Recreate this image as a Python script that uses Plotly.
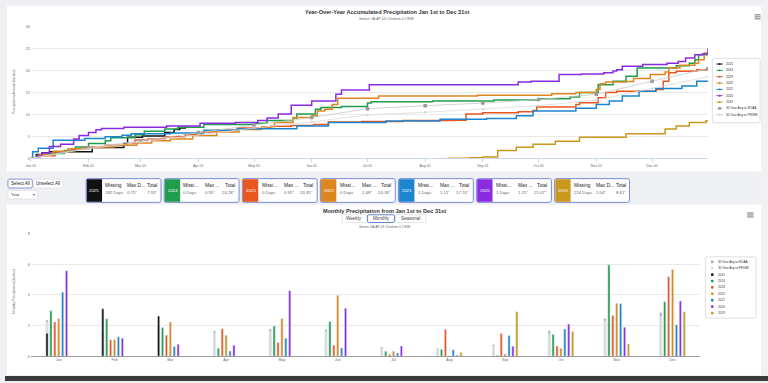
import plotly.graph_objects as go
import pandas as pd

W, H = 768, 383
def X(px): return px / W
def Y(py): return 1 - py / H

FONT = "Liberation Sans, Arial, sans-serif"

# ---------------- data ----------------
years = ["2025", "2024", "2023", "2022", "2021", "2020", "2019"]
year_colors = ["#111111", "#1f9d4c", "#e8571d", "#de861e", "#1b86cf", "#8a2be2", "#c9981c"]
noaa_name = "30 Year Avg to NOAA"
prism_name = "30 Year Avg to PRISM"
noaa_color = "#a9a9a9"
prism_color = "#d9d9d9"

# accumulated precipitation: day-of-year breakpoints and running totals (inches)
acc_days_2025 = [0, 3, 6, 10, 33, 50, 52, 60, 72, 77, 80, 83]
acc_vals_2025 = [0, 0.9, 1.3, 1.5, 2.5, 3.4, 4.8, 5.1, 5.9, 6.6, 6.9, 7.33]
acc_days_2024 = [0, 4, 10, 18, 24, 31, 40, 43, 56, 61, 72, 79, 93, 120, 127, 141, 143, 153, 156, 167, 181, 183,
                 216, 249, 273, 290, 295, 305, 313, 320, 326, 347, 354, 357, 359, 364]
acc_vals_2024 = [0, 0.8, 1.1, 1.8, 2.6, 3.4, 4.0, 4.7, 5.4, 6.2, 6.7, 7.1, 7.7, 8.0, 8.6, 9.2, 10.1, 11.2, 11.6,
                 11.8, 12.6, 12.9, 13.1, 13.3, 13.6, 14.0, 15.0, 16.8, 17.6, 18.7, 20.6, 21.1, 21.7, 22.5, 23.6, 24.28]
acc_days_2023 = [0, 4, 13, 22, 29, 40, 52, 56, 63, 72, 83, 92, 100, 111, 129, 140, 152, 160, 178, 200, 228, 234,
                 243, 262, 270, 272, 293, 295, 305, 309, 315, 336, 340, 343, 347, 358, 364]
acc_vals_2023 = [0, 0.6, 1.5, 2.1, 2.5, 3.0, 3.4, 4.2, 4.4, 4.9, 5.4, 6.0, 6.4, 6.9, 7.3, 7.5, 7.7, 8.3, 8.4, 8.6,
                 8.7, 10.1, 10.4, 10.6, 10.9, 11.7, 12.3, 12.7, 13.8, 15.0, 15.3, 15.7, 17.6, 19.5, 19.85, 20.2, 20.35]
acc_days_2022 = [0, 5, 12, 20, 31, 45, 57, 65, 75, 87, 100, 112, 124, 131, 141, 151, 154, 158, 162, 165, 187, 240,
                 280, 293, 304, 306, 309, 320, 324, 333, 341, 343, 349, 357, 359, 362, 364]
acc_vals_2022 = [0, 0.8, 1.6, 2.2, 2.6, 3.0, 3.5, 4.0, 4.4, 5.2, 6.0, 6.6, 7.2, 8.2, 9.3, 9.7, 10.8, 11.2, 12.3,
                 13.7, 14.2, 14.4, 14.7, 15.0, 15.7, 17.0, 17.4, 17.5, 18.2, 19.1, 19.7, 20.6, 21.2, 21.7, 22.5, 24.0, 24.18]
acc_days_2021 = [0, 1, 4, 12, 29, 40, 49, 54, 75, 93, 111, 143, 160, 191, 220, 245, 261, 270, 293, 304, 311, 318,
                 327, 336, 350, 358, 364]
acc_vals_2021 = [0, 1.5, 2.3, 4.1, 4.5, 4.9, 5.25, 5.6, 5.8, 6.4, 6.75, 7.4, 8.2, 8.5, 8.9, 9.1, 9.7, 10.8, 11.4,
                 12.3, 13.1, 14.2, 15.3, 15.9, 16.5, 17.6, 17.74]
acc_days_2020 = [0, 3, 6, 10, 16, 23, 26, 31, 35, 38, 50, 73, 91, 110, 122, 127, 133, 140, 151, 164, 167, 182,
                 262, 269, 284, 296, 308, 313, 315, 318, 329, 342, 348, 352, 357, 361, 364]
acc_vals_2020 = [0, 0.5, 1.2, 2.7, 3.2, 4.4, 5.2, 5.9, 6.5, 6.8, 7.1, 7.4, 8.0, 8.2, 8.6, 9.2, 10.1, 12.1, 13.1,
                 14.6, 15.6, 16.8, 17.4, 17.6, 19.1, 19.25, 19.5, 19.9, 20.2, 21.0, 21.4, 21.7, 22.1, 22.9, 23.6, 23.8, 25.07]
acc_days_2019 = [224, 236, 243, 251, 261, 270, 282, 295, 320, 341, 347, 354, 363, 364]
acc_vals_2019 = [0, 0.15, 0.3, 1.8, 2.55, 3.2, 3.9, 4.8, 5.6, 6.7, 7.4, 8.2, 8.55, 8.61]

avg_dates = ["2021-01-01", "2021-02-01", "2021-03-01", "2021-04-01", "2021-05-01", "2021-06-01", "2021-07-01",
             "2021-08-01", "2021-09-01", "2021-10-01", "2021-11-01", "2021-12-01", "2021-12-31"]
noaa_accum = [0, 2.4, 4.0, 5.9, 7.6, 9.3, 11.3, 12.0, 12.6, 13.4, 14.6, 17.6, 20.5]
prism_accum = [0, 2.2, 3.7, 5.4, 6.9, 8.3, 9.9, 10.5, 11.2, 12.0, 13.3, 15.9, 18.6]

months = ["Jan", "Feb", "Mar", "Apr", "May", "Jun", "Jul", "Aug", "Sep", "Oct", "Nov", "Dec"]
monthly_noaa = [2.36, 1.6, 1.95, 1.65, 1.78, 1.76, 0.6, 0.52, 0.75, 1.66, 2.47, 2.86]
monthly_prism = [2.2, 1.5, 1.75, 1.5, 1.6, 1.6, 0.5, 0.45, 0.65, 1.45, 2.3, 2.6]
monthly_2025 = [1.5, 3.09, 2.62, None, None, None, None, None, None, None, None, None]
monthly_2024 = [2.96, 2.45, 1.87, 0.52, 1.97, 2.27, 0.32, 0.45, 0.06, 1.42, 5.96, 3.55]
monthly_2023 = [2.23, 1.07, 1.37, 1.8, 0.9, 0.73, 0.11, 1.76, 1.48, 0.67, 2.65, 5.18]
monthly_2022 = [2.47, 1.07, 2.23, 1.37, 2.47, 3.97, 0.32, 0.04, 0.15, 0.52, 3.46, 5.66]
monthly_2021 = [4.18, 1.27, 0.64, 0.34, 1.18, 0.54, 0.21, 0.43, 1.35, 1.78, 3.42, 2.06]
monthly_2020 = [5.58, 1.18, 0.79, 0.71, 4.27, 3.13, 0.67, 0.06, 0.65, 2.1, 1.89, 3.61]
monthly_2019 = [None, None, None, None, None, None, None, 0.26, 2.9, 1.61, 0.8, 2.9]

card_missing = ["282 Days", "0 Days", "0 Days", "0 Days", "1 Days", "1 Days", "224 Days"]
card_max = ['0.75"', '0.95"', '0.92"', '1.48"', '1.11"', '1.25"', '1.04"']
card_total = ['7.33"', '24.28"', '20.35"', '24.18"', '17.74"', '25.07"', '8.61"']
card_head_missing = ["Missing", "Missi...", "Missi...", "Missi...", "Missi...", "Missi...", "Missing"]
card_head_max = ["Max D...", "Max ...", "Max ...", "Max ...", "Max ...", "Max ...", "Max D..."]

acc_days = [acc_days_2025, acc_days_2024, acc_days_2023, acc_days_2022, acc_days_2021, acc_days_2020, acc_days_2019]
acc_vals = [acc_vals_2025, acc_vals_2024, acc_vals_2023, acc_vals_2022, acc_vals_2021, acc_vals_2020, acc_vals_2019]
monthly = [monthly_2025, monthly_2024, monthly_2023, monthly_2022, monthly_2021, monthly_2020, monthly_2019]

base = pd.Timestamp("2021-01-01")

fig = go.Figure()

# ---------------- top chart: accumulated ----------------
for yr, col, dd, vv in zip(years, year_colors, acc_days, acc_vals):
    dates = [base + pd.Timedelta(days=d) for d in dd]
    fig.add_trace(go.Scatter(x=dates, y=vv, mode="lines", name=yr, line=dict(color=col, width=1.5, shape="hv"),
                             xaxis="x", yaxis="y", showlegend=False))
fig.add_trace(go.Scatter(x=avg_dates, y=noaa_accum, mode="lines+markers", name=noaa_name,
                         line=dict(color="#c8c8c8", width=0.8),
                         marker=dict(symbol="square", size=3.5, color="#9a9a9a"),
                         xaxis="x", yaxis="y", showlegend=False))
fig.add_trace(go.Scatter(x=avg_dates, y=prism_accum, mode="lines+markers", name=prism_name,
                         line=dict(color="#dcdcdc", width=0.8),
                         marker=dict(symbol="triangle-up", size=3, color="#cfcfcf"),
                         xaxis="x", yaxis="y", showlegend=False))

# ---------------- bottom chart: monthly ----------------
fig.add_trace(go.Bar(x=months, y=monthly_noaa, name=noaa_name, marker_color=noaa_color,
                     offsetgroup="a", alignmentgroup="m", xaxis="x2", yaxis="y2", showlegend=False))
fig.add_trace(go.Bar(x=months, y=monthly_prism, name=prism_name, marker_color=prism_color,
                     offsetgroup="a", alignmentgroup="m", xaxis="x2", yaxis="y2", showlegend=False))
for yr, col, mv in zip(years, year_colors, monthly):
    fig.add_trace(go.Bar(x=months, y=mv, name=yr, marker_color=col,
                         offsetgroup="a" if yr == "2025" else yr, alignmentgroup="m",
                         xaxis="x2", yaxis="y2", showlegend=False))

shapes = []
ann = []

def rect(x0, y0, x1, y1, fill, line="rgba(0,0,0,0)", lw=0, layer="below"):
    shapes.append(dict(type="rect", xref="paper", yref="paper", x0=X(x0), x1=X(x1), y0=Y(y1), y1=Y(y0),
                       fillcolor=fill, line=dict(color=line, width=lw), layer=layer))

def rrect(x0, y0, x1, y1, r, fill, line, lw, layer="below"):
    rx, ry = r / W, r / H
    a, b, c, d = X(x0), X(x1), Y(y1), Y(y0)  # left, right, bottom, top
    p = (f"M{a+rx},{d} L{b-rx},{d} Q{b},{d} {b},{d-ry} L{b},{c+ry} Q{b},{c} {b-rx},{c} "
         f"L{a+rx},{c} Q{a},{c} {a},{c+ry} L{a},{d-ry} Q{a},{d} {a+rx},{d} Z")
    shapes.append(dict(type="path", xref="paper", yref="paper", path=p, fillcolor=fill,
                       line=dict(color=line, width=lw), layer=layer))

def text(px, py, s, size, color="#333", anchor="left", bold=False, angle=0):
    ann.append(dict(x=X(px), y=Y(py), xref="paper", yref="paper", text=f"<b>{s}</b>" if bold else s,
                    showarrow=False, xanchor=anchor, yanchor="middle", textangle=angle,
                    font=dict(size=size, color=color, family=FONT), borderpad=0))

def hline(x0, x1, py, color, w):
    shapes.append(dict(type="line", xref="paper", yref="paper", x0=X(x0), x1=X(x1), y0=Y(py), y1=Y(py),
                       line=dict(color=color, width=w), layer="above"))

# page background & panels
rect(0, 0, 768, 383, "#eef0f4")
rect(2, 4, 761, 171, "#ffffff")
rect(2, 205, 761, 377, "#ffffff")
rect(762, 0, 768, 383, "#f1f1f1")
rect(0, 378, 768, 383, "#3a3a3a", layer="above")

# top titles
text(384.5, 10.5, "Year-Over-Year Accumulated Precipitation Jan 1st to Dec 31st", 5.6, "#333", "center", True)
text(384.5, 17.5, "Station: VA-AP-43: Chatham 0.2 ESE", 3.3, "#666", "center")
text(9, 91, "Precipitation Amount (Inches)", 3.4, "#666", "center", angle=-90)
for yy in (13, 15, 17):
    hline(754.5, 760.5, yy, "#666666", 0.9)

# top legend (manual, compact)
rrect(712, 57, 760, 122, 1.5, "#ffffff", "#c9c9c9", 0.6, layer="above")
leg_names1 = years + [noaa_name, prism_name]
leg_cols1 = year_colors + ["#9a9a9a", "#cfcfcf"]
for i, (nm, cl) in enumerate(zip(leg_names1, leg_cols1)):
    yy = 62.7 + i * 6.4
    hline(716, 722.5, yy, "#c8c8c8" if i >= 7 else cl, 0.9)
    if i == 7:
        rect(718, yy - 1.4, 720.6, yy + 1.4, cl, layer="above")
    else:
        shapes.append(dict(type="circle", xref="paper", yref="paper", x0=X(718.3), x1=X(720.3),
                           y0=Y(yy + 1), y1=Y(yy - 1), fillcolor=cl, line=dict(width=0), layer="above"))
    text(724.5, yy, nm, 3.2, "#333")

# controls row
rrect(3, 179, 27.5, 188, 1.5, "#ffffff", "#6f77d6", 0.8)
text(15.2, 183.6, "Select All", 4.6, "#222", "center")
rrect(28.5, 179, 58.5, 188, 1.5, "#ffffff", "#d8d8d8", 0.6)
text(43.5, 183.6, "Unselect All", 4.6, "#222", "center")
rrect(3, 190.5, 33, 199, 1.5, "#ffffff", "#d8d8d8", 0.6)
text(5.5, 194.8, "Year", 4.2, "#333")
text(29, 194.5, "▾", 4.2, "#555", "center")

# cards
for i, yr in enumerate(years):
    left = 81.7 + i * 78.6
    right = left + 75.3
    rrect(left, 178.5, right, 202.5, 2, "#ffffff", "#6a7fd4", 0.9)
    rect(left + 0.6, 179.1, left + 16, 201.9, year_colors[i], layer="below")
    text(left + 8.3, 190.5, yr, 4.3, "#ffffff", "center")
    text(left + 18.3, 185.2, card_head_missing[i], 4.9, "#222")
    text(left + 18.3, 193, card_missing[i], 4.3, "#666")
    text(left + 40.5, 185.2, card_head_max[i], 4.9, "#222")
    text(left + 40.5, 193, card_max[i], 4.3, "#666")
    text(right - 3, 185.2, "Total", 4.9, "#222", "right")
    text(right - 3, 193, card_total[i], 4.3, "#666", "right")

# bottom titles and buttons
text(381.5, 210.8, "Monthly Precipitation from Jan 1st to Dec 31st", 5.6, "#333", "center", True)
rrect(339.5, 215, 364, 222.8, 1, "#ffffff", "#d5d5d5", 0.6)
text(351.7, 219, "Weekly", 4.6, "#444", "center")
rrect(365, 215, 392, 222.8, 1, "#ffffff", "#4f72c9", 0.9)
text(378.5, 219, "Monthly", 4.6, "#444", "center")
rrect(393, 215, 423.5, 222.8, 1, "#ffffff", "#d5d5d5", 0.6)
text(408.2, 219, "Seasonal", 4.6, "#444", "center")
text(381.5, 227.8, "Station: VA-AP-43: Chatham 0.2 ESE", 3.1, "#666", "center")
text(9, 292, "Monthly Precipitation (Inches)", 3.4, "#666", "center", angle=-90)
for yy in (213.2, 215.2, 217.2):
    hline(747, 753.5, yy, "#666666", 0.9)

# bottom legend (manual, compact)
rrect(705, 257.5, 756, 319.5, 1.5, "#ffffff", "#c9c9c9", 0.6, layer="above")
leg_names2 = [noaa_name, prism_name] + years
leg_cols2 = [noaa_color, prism_color] + year_colors
for i, (nm, cl) in enumerate(zip(leg_names2, leg_cols2)):
    yy = 262.7 + i * 6.45
    shapes.append(dict(type="circle", xref="paper", yref="paper", x0=X(710.5), x1=X(713.3),
                       y0=Y(yy + 1.4), y1=Y(yy - 1.4), fillcolor=cl, line=dict(width=0), layer="above"))
    text(716.5, yy, nm, 3.1, "#333")

axis_font = dict(size=3.6, color="#666", family=FONT)
fig.update_layout(
    width=W, height=H, margin=dict(l=0, r=0, t=0, b=0),
    paper_bgcolor="#eef0f4", plot_bgcolor="rgba(0,0,0,0)",
    font=dict(family=FONT),
    barmode="group", bargap=0.51, bargroupgap=0.45,
    xaxis=dict(domain=[X(26), X(707.5)], anchor="y", type="date",
               range=["2021-01-01", "2021-12-31"], dtick="M1", tick0="2021-01-01", tickformat="%b %d",
               showgrid=False, showline=True, linecolor="#ccd6eb", linewidth=0.8,
               ticks="outside", ticklen=3, tickcolor="#ccd6eb", tickwidth=0.8,
               tickfont=axis_font, zeroline=False),
    yaxis=dict(domain=[Y(158), Y(25)], anchor="x", range=[0, 30], dtick=5,
               showgrid=True, gridcolor="#e9e9e9", gridwidth=0.6, zeroline=False,
               tickfont=axis_font, ticks="", showline=False),
    xaxis2=dict(domain=[X(26), X(700)], anchor="y2", type="category",
                showgrid=False, showline=True, linecolor="#9a9a9a", linewidth=0.8,
                tickfont=axis_font, ticks="", zeroline=False),
    yaxis2=dict(domain=[Y(358), Y(234)], anchor="x2", range=[0, 8], dtick=2,
                showgrid=True, gridcolor="#e9e9e9", gridwidth=0.6, zeroline=False,
                tickfont=axis_font, ticks="", showline=False),
    shapes=shapes, annotations=ann, showlegend=False,
)

fig.write_html("out.html", config={"displayModeBar": False},
               post_script="document.body.style.margin='0';document.body.style.overflow='hidden';")
